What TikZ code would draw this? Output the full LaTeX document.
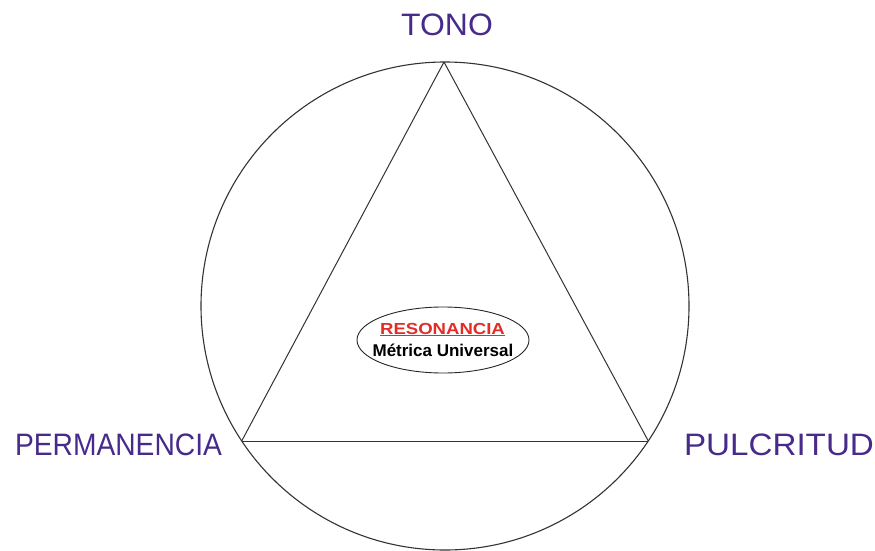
\documentclass[tikz,border=0pt]{standalone}
\usepackage{fontspec}
\setmainfont{Liberation Sans}
\usetikzlibrary{shapes.geometric}
\definecolor{morado}{RGB}{72,42,138}
\definecolor{rojo}{RGB}{226,44,38}
\begin{document}
\begin{tikzpicture}[x=1pt, y=-1pt,
  vertice/.style={shape=coordinate},
  cualidad/.style={anchor=base, text=morado, inner sep=0pt, font=\fontsize{31}{31}\selectfont},
  linea/.style={-, line width=1pt, draw=black!80}]
\useasboundingbox (0,0) rectangle (875,551);
\node[shape=circle, draw=black!80, line width=1.1pt, minimum size=488pt, inner sep=0pt] (rueda) at (445,306) {};
\node[vertice] (arriba) at (444,62) {};
\node[vertice] (izq) at (241.7,441) {};
\node[vertice] (der) at (648.3,441) {};
\path [linea] (arriba) edge (izq);
\path [linea] (izq) edge (der);
\path [linea] (der) edge (arriba);
\node[cualidad] (tono) at (447,36) {\scalebox{1.03}[1]{TONO}};
\node[cualidad] (permanencia) at (118.5,455) {\scalebox{0.91}[1]{PERMANENCIA}};
\node[cualidad] (pulcritud) at (779,455) {\scalebox{1.07}[1]{PULCRITUD}};
\node[shape=ellipse, draw=black!85, line width=0.9pt, minimum width=172pt, minimum height=66pt, inner sep=0pt] (centro) at (443,340) {};
\node[anchor=base, inner sep=0pt, text=rojo, font=\bfseries\fontsize{16}{16}\selectfont] (resonancia) at (442.5,334) {\scalebox{1.16}[1]{\underline{RESONANCIA}}};
\node[anchor=base, inner sep=0pt, font=\bfseries\fontsize{17}{17}\selectfont] (metrica) at (443,356) {Métrica Universal};
\end{tikzpicture}
\end{document}
